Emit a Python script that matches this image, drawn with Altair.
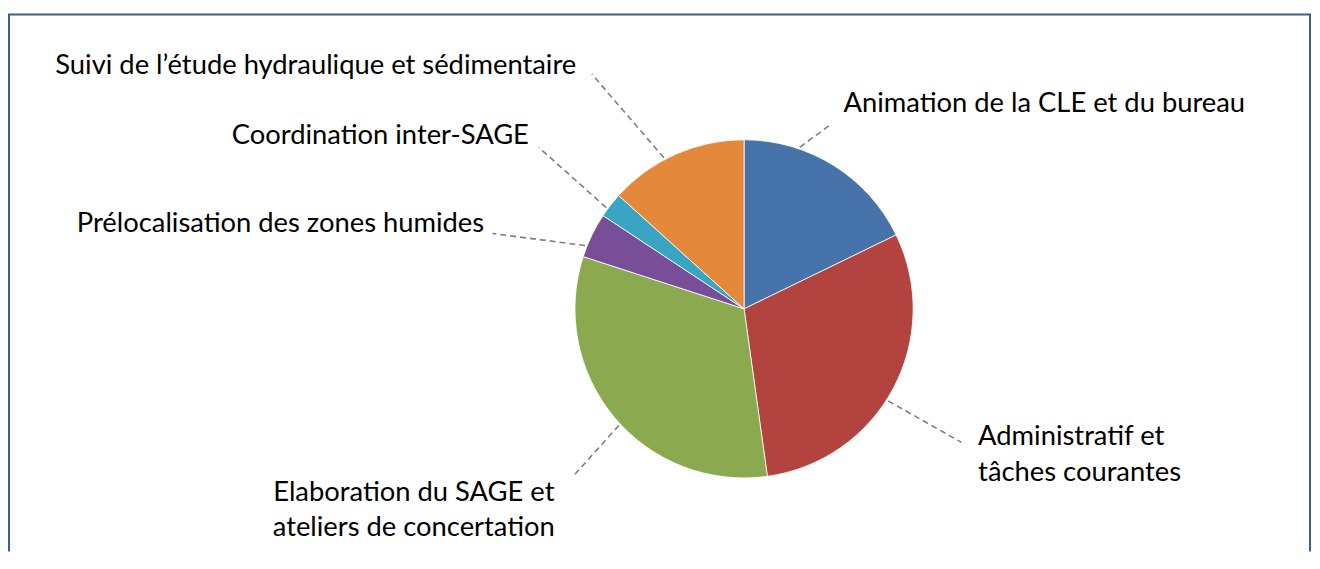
import math
import altair as alt
import pandas as pd

# ---- data -------------------------------------------------------------
categories = [
    "Animation de la CLE et du bureau",
    "Administratif et tâches courantes",
    "Elaboration du SAGE et ateliers de concertation",
    "Prélocalisation des zones humides",
    "Coordination inter-SAGE",
    "Suivi de l’étude hydraulique et sédimentaire",
]
label_lines = [
    ["Animation de la CLE et du bureau"],
    ["Administratif et", "tâches courantes"],
    ["Elaboration du SAGE et", "ateliers de concertation"],
    ["Prélocalisation des zones humides"],
    ["Coordination inter-SAGE"],
    ["Suivi de l’étude hydraulique et sédimentaire"],
]
shares = [17.8, 30.0, 32.2, 4.3, 2.4, 13.3]
colors = ["#4674AA", "#B3433F", "#8BA94E", "#794E99", "#3AA4C3", "#E4893C"]

# ---- layout (pixels relative to the pie centre) ------------------------
W, H = 1311, 545
CX, CY = 740, 301          # pie centre inside the chart
R = 170
FONT = "Lato"
FS = 27.5
LH = 35.7
leader_shift = [-13, 4.5, -3, -4, -1.5, -4]      # degrees from mid-angle
leader_end = [(88, -186), (218.7, 134.3), (-171.3, 167.7),
              (-253, -75.7), (-206.3, -162.3), (-153, -236)]
label_pos = [(100, -198), (235.3, 137), (-332, 192.7),
             (-261.3, -77.3), (-216.3, -165.7), (-168.7, -235.7)]
label_align = ["left", "left", "center", "right", "right", "right"]

total = sum(shares)
rows = []
cum = 0.0
for i, (c, s) in enumerate(zip(categories, shares)):
    mid = (cum + s / 2) / total * 360.0
    cum += s
    a = math.radians(mid + leader_shift[i])
    rows.append({
        "idx": i, "cat": c, "share": s, "cx": 0, "cy": 0,
        "x0": (R + 2) * math.sin(a), "y0": -(R + 2) * math.cos(a),
        "x1": leader_end[i][0], "y1": leader_end[i][1],
        "lx": label_pos[i][0], "ly": label_pos[i][1],
        "lines": label_lines[i], "align": label_align[i],
    })
df = pd.DataFrame(rows)

xs = alt.Scale(domain=[-CX, W - CX], nice=False, zero=False)
ys = alt.Scale(domain=[-CY, H - CY], nice=False, zero=False, reverse=True)

base = alt.Chart(df)

pie = base.mark_arc(outerRadius=R, stroke="#ffffff", strokeWidth=0.8).encode(
    theta=alt.Theta("share:Q", stack=True),
    order=alt.Order("idx:Q"),
    color=alt.Color("cat:N", scale=alt.Scale(domain=categories, range=colors), legend=None),
    x=alt.X("cx:Q", scale=xs, axis=None),
    y=alt.Y("cy:Q", scale=ys, axis=None),
)

leaders = base.mark_rule(color="#7F7F7F", strokeWidth=1.6, strokeDash=[6, 4]).encode(
    x=alt.X("x0:Q", scale=xs, axis=None),
    y=alt.Y("y0:Q", scale=ys, axis=None),
    x2="x1:Q",
    y2="y1:Q",
)

text_layers = []
for al in ["left", "center", "right"]:
    text_layers.append(
        base.transform_filter(alt.datum.align == al)
        .mark_text(align=al, baseline="alphabetic", font=FONT, fontSize=FS,
                   lineHeight=LH, color="#000000")
        .encode(
            x=alt.X("lx:Q", scale=xs, axis=None),
            y=alt.Y("ly:Q", scale=ys, axis=None),
            text=alt.Text("lines:N"),
        )
    )

frame_data = alt.Data(values=[{"k": 1}])
BORDER = "#3A5F93"
frame_left = alt.Chart(frame_data).mark_rule(color=BORDER, strokeWidth=2).encode(
    x=alt.value(1), y=alt.value(5), y2=alt.value(H))
frame_top = alt.Chart(frame_data).mark_rule(color=BORDER, strokeWidth=2).encode(
    x=alt.value(0), x2=alt.value(W - 1), y=alt.value(5))
frame_right = alt.Chart(frame_data).mark_rule(color=BORDER, strokeWidth=2).encode(
    x=alt.value(W - 2), y=alt.value(5), y2=alt.value(H))

chart = alt.layer(pie, leaders, *text_layers, frame_left, frame_top, frame_right).properties(
    width=W, height=H,
    padding=0,
    autosize=alt.AutoSizeParams(type="none"),
    background="#ffffff",
).configure_view(stroke=None)

chart.save("out.html", embed_options={"renderer": "svg", "actions": False})
